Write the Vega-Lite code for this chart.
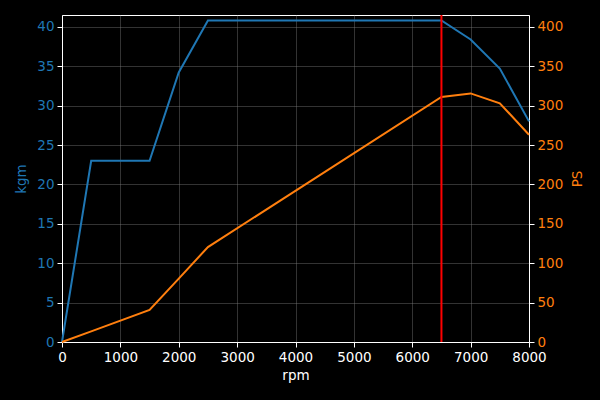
{
  "$schema": "https://vega.github.io/schema/vega-lite/v6.json",
  "autosize": {"type": "none"},
  "width": 467,
  "height": 327,
  "padding": {"left": 62, "top": 15, "right": 71, "bottom": 58},
  "background": "black",
  "config": {
    "view": {"stroke": "white", "strokeWidth": 1},
    "font": "DejaVu Sans",
    "axis": {
      "labelFont": "DejaVu Sans",
      "titleFont": "DejaVu Sans",
      "labelFontSize": 13.5,
      "titleFontSize": 13.5,
      "titleFontWeight": "normal",
      "domainColor": "white",
      "tickColor": "white",
      "tickSize": 5,
      "gridColor": "#808080",
      "gridOpacity": 0.5,
      "gridWidth": 0.8
    }
  },
  "datasets": {
    "curve": [
      {"rpm": 0, "kgm": 0, "PS": 0},
      {"rpm": 500, "kgm": 23.0, "PS": 13.5},
      {"rpm": 1500, "kgm": 23.0, "PS": 40.6},
      {"rpm": 2000, "kgm": 34.2, "PS": 80.5},
      {"rpm": 2500, "kgm": 40.8, "PS": 120.5},
      {"rpm": 6500, "kgm": 40.8, "PS": 311},
      {"rpm": 7000, "kgm": 38.4, "PS": 315.5},
      {"rpm": 7500, "kgm": 34.7, "PS": 303},
      {"rpm": 8000, "kgm": 28.0, "PS": 263}
    ],
    "limit": [{"rpm": 6500}]
  },
  "layer": [
    {
      "data": {"name": "curve"},
      "mark": {"type": "line", "color": "#1f77b4", "strokeWidth": 2},
      "encoding": {
        "x": {
          "field": "rpm", "type": "quantitative",
          "scale": {"domain": [0, 8000], "nice": false},
          "axis": {
            "title": "rpm", "values": [0,1000,2000,3000,4000,5000,6000,7000,8000], "format": "d",
            "labelColor": "white", "titleColor": "white", "grid": true,
            "labelPadding": 3, "titlePadding": 5, "labelFlush": false
          }
        },
        "y": {
          "field": "kgm", "type": "quantitative",
          "scale": {"domain": [0, 41.5], "nice": false},
          "axis": {
            "title": "kgm", "orient": "left",
            "values": [0,5,10,15,20,25,30,35,40],
            "labelColor": "#1f77b4", "titleColor": "#1f77b4", "grid": true,
            "labelPadding": 3, "titlePadding": 8, "labelFlush": false
          }
        }
      }
    },
    {
      "data": {"name": "curve"},
      "mark": {"type": "line", "color": "#ff7f0e", "strokeWidth": 2},
      "encoding": {
        "x": {"field": "rpm", "type": "quantitative"},
        "y": {
          "field": "PS", "type": "quantitative",
          "scale": {"domain": [0, 415], "nice": false},
          "axis": {
            "title": "PS", "orient": "right",
            "values": [0,50,100,150,200,250,300,350,400],
            "labelColor": "#ff7f0e", "titleColor": "#ff7f0e", "grid": false,
            "labelPadding": 3, "titlePadding": 8, "titleAngle": 270, "titleBaseline": "top", "labelFlush": false
          }
        }
      }
    },
    {
      "data": {"name": "limit"},
      "mark": {"type": "rule", "color": "#ff0000", "strokeWidth": 2},
      "encoding": {
        "x": {"field": "rpm", "type": "quantitative"}
      }
    }
  ],
  "resolve": {"scale": {"y": "independent"}}
}
